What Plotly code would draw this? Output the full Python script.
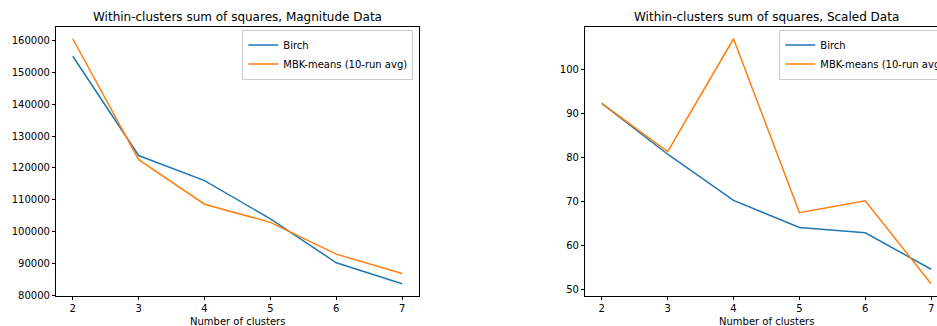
import plotly.graph_objects as go

clusters = [2, 3, 4, 5, 6, 7]
birch_mag = [155100, 123900, 116000, 104000, 90200, 83600]
mbk_mag = [160600, 122600, 108600, 102900, 92900, 86800]
birch_scaled = [92.4, 80.8, 70.3, 64.1, 62.9, 54.6]
mbk_scaled = [92.4, 81.4, 107.1, 67.5, 70.2, 51.3]

title_left = "Within-clusters sum of squares, Magnitude Data"
title_right = "Within-clusters sum of squares, Scaled Data"
xlabel = "Number of clusters"
series_names = ["Birch", "MBK-means (10-run avg)"]
colors = ["#1f77b4", "#ff7f0e"]

W, H = 937, 326
FONT = "DejaVu Sans"


def pad(vals, frac=0.05):
    lo, hi = min(vals), max(vals)
    d = (hi - lo) * frac
    return [lo - d, hi + d]


fig = go.Figure()
for i, (ys, name) in enumerate(zip([birch_mag, mbk_mag], series_names)):
    fig.add_trace(go.Scatter(x=clusters, y=ys, mode="lines", name=name,
                             line=dict(color=colors[i], width=1.5),
                             xaxis="x", yaxis="y", legend="legend"))
for i, (ys, name) in enumerate(zip([birch_scaled, mbk_scaled], series_names)):
    fig.add_trace(go.Scatter(x=clusters, y=ys, mode="lines", name=name,
                             line=dict(color=colors[i], width=1.5),
                             xaxis="x2", yaxis="y2", legend="legend2"))

# pixel geometry
L1, R1 = 56.3, 418.6
L2 = 585.3
TOP, BOT = 26.5, 296.0
xr1 = pad(clusters)
ppu = (R1 - L1) / (xr1[1] - xr1[0])
xr2 = [xr1[0], xr1[0] + (W - L2) / ppu]

ydom = [(H - BOT) / H, (H - TOP) / H]

axis_common = dict(showline=True, linecolor="black", linewidth=0.8,
                   ticks="outside", ticklen=3.5, tickwidth=0.8, tickcolor="black",
                   showgrid=False, zeroline=False,
                   tickfont=dict(family=FONT, size=10, color="black"))

LEG_TOP = 29.5

fig.update_layout(
    width=W, height=H,
    margin=dict(l=0, r=0, t=0, b=0, autoexpand=False),
    paper_bgcolor="white", plot_bgcolor="white",
    font=dict(family=FONT, size=10, color="black"),
    xaxis=dict(domain=[L1 / W, R1 / W], range=xr1, tickvals=clusters,
               mirror=True, anchor="y", **axis_common),
    yaxis=dict(domain=ydom, range=pad(birch_mag + mbk_mag),
               tickvals=list(range(80000, 160001, 10000)), tickformat="d",
               mirror=True, anchor="x", **axis_common),
    xaxis2=dict(domain=[L2 / W, 1.0], range=xr2, tickvals=clusters,
                mirror=True, anchor="y2", **axis_common),
    yaxis2=dict(domain=ydom, range=pad(birch_scaled + mbk_scaled),
                tickvals=list(range(50, 101, 10)),
                mirror=False, anchor="x2", **axis_common),
    legend=dict(x=413.3 / W, xanchor="right", y=(H - LEG_TOP) / H, yanchor="top",
                bgcolor="rgba(255,255,255,0.8)", bordercolor="#cccccc", borderwidth=1,
                font=dict(family=FONT, size=10, color="black"), tracegroupgap=0),
    legend2=dict(x=779.3 / W, xanchor="left", y=(H - LEG_TOP) / H, yanchor="top",
                 bgcolor="rgba(255,255,255,0.8)", bordercolor="#cccccc", borderwidth=1,
                 font=dict(family=FONT, size=10, color="black"), tracegroupgap=0),
    showlegend=True,
)

annots = [
    dict(text=title_left, x=(L1 + R1) / 2 / W, y=(H - 16.7) / H),
    dict(text=title_right, x=(L2 + (L2 + (R1 - L1))) / 2 / W, y=(H - 16.7) / H),
]
for a in annots:
    fig.add_annotation(text=a["text"], x=a["x"], y=a["y"], xref="paper", yref="paper",
                       xanchor="center", yanchor="middle", showarrow=False,
                       font=dict(family=FONT, size=12, color="black"))
for cx in [(L1 + R1) / 2, (L2 + L2 + (R1 - L1)) / 2]:
    fig.add_annotation(text=xlabel, x=cx / W, y=(H - 321.7) / H, xref="paper", yref="paper",
                       xanchor="center", yanchor="middle", showarrow=False,
                       font=dict(family=FONT, size=10, color="black"))

fig.write_html("out.html")
